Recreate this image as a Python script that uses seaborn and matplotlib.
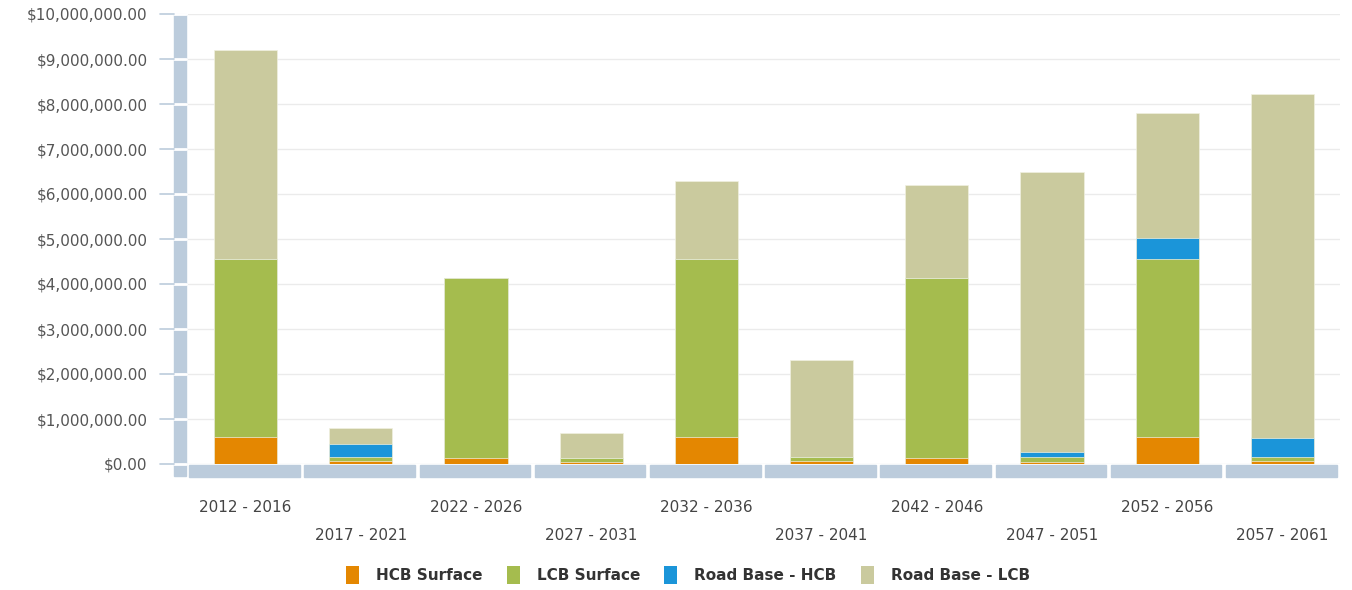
import numpy as np
import pandas as pd
import matplotlib
matplotlib.use("Agg")
import matplotlib.pyplot as plt
import matplotlib.transforms as mtransforms
from matplotlib.patches import Rectangle, Patch
import seaborn as sns

# Data (values in dollars)
periods = ["2012 - 2016", "2017 - 2021", "2022 - 2026", "2027 - 2031", "2032 - 2036",
           "2037 - 2041", "2042 - 2046", "2047 - 2051", "2052 - 2056", "2057 - 2061"]
hcb_surface = [600000, 70000, 140000, 50000, 600000, 60000, 140000, 50000, 600000, 60000]
lcb_surface = [3960000, 90000, 3990000, 90000, 3960000, 100000, 3990000, 100000, 3960000, 100000]
road_base_hcb = [0, 280000, 0, 0, 0, 0, 0, 120000, 460000, 420000]
road_base_lcb = [4640000, 360000, 0, 550000, 1740000, 2150000, 2070000, 6220000, 2780000, 7640000]

series_names = ["HCB Surface", "LCB Surface", "Road Base - HCB", "Road Base - LCB"]
colors = ["#E48701", "#A5BC4E", "#1B95D9", "#CACA9E"]
axis_color = "#BCCCDC"
text_color = "#555555"

df = pd.DataFrame({
    "period": periods,
    "HCB Surface": hcb_surface,
    "LCB Surface": lcb_surface,
    "Road Base - HCB": road_base_hcb,
    "Road Base - LCB": road_base_lcb,
})
# cumulative stack heights, drawn from the top down so lower layers overlay
cum = df[series_names].cumsum(axis=1)

sns.set_style("white")
plt.rcParams["font.family"] = ["DejaVu Sans"]

W, H = 1352, 590
fig = plt.figure(figsize=(W / 100, H / 100), dpi=100)
left_px, right_px, top_px, zero_px = 188, 1340, 14, 464
ax_w, ax_h = right_px - left_px, zero_px - top_px
ax = fig.add_axes([left_px / W, (H - zero_px) / H, ax_w / W, ax_h / H])

for name, color in reversed(list(zip(series_names, colors))):
    sns.barplot(x=df["period"], y=cum[name], color=color, width=0.55, ax=ax,
                edgecolor="#f0f0e0", linewidth=0.5, saturation=1)

ax.set_xlim(-0.5, len(periods) - 0.5)
ax.set_ylim(0, 10000000)
yticks = np.arange(0, 10000001, 1000000)
ax.set_yticks(yticks)
ax.set_yticklabels([f"${v:,.2f}" for v in yticks], color=text_color, fontsize=11)
ax.tick_params(axis="y", length=0, pad=29)
ax.set_xticks(range(len(periods)))
ax.set_xticklabels([])
ax.tick_params(axis="x", length=0)
ax.set_xlabel("")
ax.set_ylabel("")
ax.grid(axis="y", color="#EBEBEB", linewidth=1)
ax.set_axisbelow(True)
for s in ax.spines.values():
    s.set_visible(False)

# y-axis band with gaps at gridlines, plus tick marks
ay = mtransforms.blended_transform_factory(ax.transAxes, ax.transData)
ax.add_patch(Rectangle((-14 / ax_w, -12 / ax_h), 12 / ax_w, 12 / ax_h + 1, transform=ax.transAxes,
                       color=axis_color, clip_on=False, zorder=0))
for v in yticks:
    ax.plot([-14 / ax_w, -2 / ax_w], [v, v], color="white", lw=2,
            transform=ay, clip_on=False, zorder=1)
    ax.plot([-28 / ax_w, -14 / ax_w], [v, v], color=axis_color, lw=1.2,
            transform=ay, clip_on=False, zorder=1)

# x-axis band, one segment per category
xt = mtransforms.blended_transform_factory(ax.transData, ax.transAxes)
for i in range(len(periods)):
    ax.add_patch(Rectangle((i - 0.5 + 0.01, -13 / ax_h), 0.96, 12 / ax_h, transform=xt,
                           color=axis_color, clip_on=False, zorder=0))

# staggered category labels
for i, label in enumerate(periods):
    y = -43 / ax_h if i % 2 == 0 else -71 / ax_h
    ax.text(i, y, label, transform=xt, ha="center", va="center",
            fontsize=11, color="#444444")

handles = [Patch(facecolor=c, edgecolor="none") for c in colors]
fig.legend(handles, series_names, loc="center", bbox_to_anchor=(688 / W, (H - 575) / H),
           ncol=4, frameon=False, handlelength=0.85, handleheight=1.5,
           handletextpad=1.1, columnspacing=1.6,
           prop={"weight": "bold", "size": 11})
for t in fig.legends[0].get_texts():
    t.set_color("#333333")

fig.savefig("out.png", dpi=100)
plt.close(fig)
